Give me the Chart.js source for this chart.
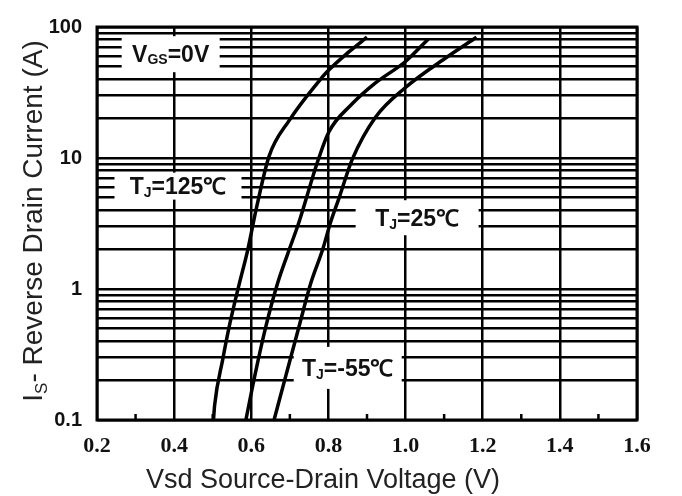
<!DOCTYPE html>
<html>
<head>
<meta charset="utf-8">
<script src="https://cdn.jsdelivr.net/npm/chart.js@4"></script>
<style>
  html, body { margin: 0; padding: 0; background: #fff; }
  #wrap { width: 682px; height: 496px; }
</style>
</head>
<body>
<div id="wrap"><canvas id="vsdChart"></canvas></div>
<script>
// curve values (Vsd in V, Is in A)
let v125 = [0.502, 0.505, 0.526, 0.543, 0.569, 0.590, 0.613, 0.646, 0.698, 0.775, 0.797, 0.853, 0.900];
let i125 = [0.1, 0.13, 0.29, 0.52, 1.1, 1.94, 4.1, 10.3, 19.3, 38.5, 45.7, 64.6, 83.6];
let v25 = [0.586, 0.608, 0.638, 0.668, 0.694, 0.724, 0.771, 0.801, 0.861, 0.922, 0.999, 1.059];
let i25 = [0.1, 0.21, 0.52, 1.1, 1.84, 3.26, 9.2, 15.8, 25.8, 37.4, 54.3, 81];
let v55 = [0.659, 0.690, 0.724, 0.754, 0.785, 0.806, 0.827, 0.862, 0.922, 0.999, 1.102, 1.184];
let i55 = [0.1, 0.22, 0.52, 1.1, 2.0, 3.26, 4.9, 9.8, 20.5, 34.4, 57.5, 83.6];

let yTicks = [0.1, 0.2, 0.3, 0.4, 0.5, 0.6, 0.7, 0.8, 0.9,
    1, 2, 3, 4, 5, 6, 7, 8, 9,
    10, 20, 30, 40, 50, 60, 70, 80, 90, 100];
let yLabels = [0.1, 1, 10, 100];
let xLabels = ['0.2', '0.4', '0.6', '0.8', '1.0', '1.2', '1.4', '1.6'];

let xTitle = 'Vsd Source-Drain Voltage (V)';
let yTitle = ['I', 'S', '- Reverse Drain Current (A)'];

function pts(xs, ys) {
    return xs.map(function (v, k) { return {x: v, y: ys[k]}; });
}

// text runs with a subscript part, drawn centred on (cx, cy)
function drawRuns(c, runs, cx, cy) {
    let w = 0;
    runs.forEach(function (r) { c.font = r.font; w += c.measureText(r.t).width; });
    let x = cx - w / 2;
    c.textAlign = 'left';
    c.textBaseline = 'alphabetic';
    runs.forEach(function (r) {
        c.font = r.font;
        c.fillText(r.t, x, cy + (r.dy || 0));
        x += c.measureText(r.t).width;
    });
}

let big = 'bold 23px "Liberation Sans", Arial, sans-serif';
let small = 'bold 14px "Liberation Sans", Arial, sans-serif';
let boxes = [
    {x: 0.391, y: 62, w: 98, h: 36, runs: [{t: 'V', font: big}, {t: 'GS', font: small, dy: 2}, {t: '=0V', font: big}]},
    {x: 0.410, y: 6.1, w: 127, h: 27, runs: [{t: 'T', font: big}, {t: 'J', font: small, dy: 3}, {t: '=125\u2103', font: big}]},
    {x: 1.030, y: 3.5, w: 123, h: 35, runs: [{t: 'T', font: big}, {t: 'J', font: small, dy: 3}, {t: '=25\u2103', font: big}]},
    {x: 0.850, y: 0.25, w: 108, h: 42, runs: [{t: 'T', font: big}, {t: 'J', font: small, dy: 3}, {t: '=-55\u2103', font: big}]},
];

let labelPlugin = {
    id: 'labels',
    beforeDatasetsDraw: function (chart) {
        let c = chart.ctx;
        let xs = chart.scales.x, ys = chart.scales.y;
        c.save();
        boxes.forEach(function (b) {
            let px = xs.getPixelForValue(b.x), py = ys.getPixelForValue(b.y);
            c.fillStyle = '#fff';
            c.fillRect(px - b.w / 2, py - b.h / 2, b.w, b.h);
            c.fillStyle = '#111';
            drawRuns(c, b.runs, px, py + 8);
        });
        c.restore();
    },
    afterDraw: function (chart) {
        let c = chart.ctx;
        let a = chart.chartArea;
        let xs = chart.scales.x;
        c.save();
        // minor tick marks at the bottom edge
        c.strokeStyle = '#000';
        c.lineWidth = 2.5;
        for (let k = 3; k < 16; k += 2) {
            let px = xs.getPixelForValue(k / 10);
            c.beginPath();
            c.moveTo(px, a.bottom);
            c.lineTo(px, a.bottom - 6);
            c.stroke();
        }
        c.lineWidth = 3;
        c.strokeRect(a.left, a.top, a.right - a.left, a.bottom - a.top);
        // axis titles
        c.fillStyle = '#222';
        c.textAlign = 'center';
        c.textBaseline = 'alphabetic';
        c.font = '27px "Liberation Sans", Arial, sans-serif';
        c.fillText(xTitle, 323, 488);
        c.translate(42, 221);
        c.rotate(-Math.PI / 2);
        drawRuns(c, [
            {t: yTitle[0], font: '28px "Liberation Sans", Arial, sans-serif'},
            {t: yTitle[1], font: '17px "Liberation Sans", Arial, sans-serif', dy: 5},
            {t: yTitle[2], font: '28px "Liberation Sans", Arial, sans-serif'},
        ], 0, 0);
        c.restore();
    }
};

let line = {borderColor: '#000', borderWidth: 3.5, pointRadius: 0, fill: false, cubicInterpolationMode: 'monotone'};

let ctx = document.getElementById('vsdChart').getContext('2d');
let vsdChart = new Chart(ctx, {
    type: 'line',
    data: {
        datasets: [
            Object.assign({label: 'TJ=125', data: pts(v125, i125)}, line),
            Object.assign({label: 'TJ=25', data: pts(v25, i25)}, line),
            Object.assign({label: 'TJ=-55', data: pts(v55, i55)}, line),
        ]
    },
    options: {
        responsive: true,
        maintainAspectRatio: false,
        animation: false,
        layout: {padding: {top: 18, right: 45, left: 0, bottom: 0}},
        plugins: {legend: {display: false}, tooltip: {enabled: false}},
        scales: {
            x: {
                type: 'linear',
                min: 0.2,
                max: 1.6,
                afterFit: function (s) { s.height = 76; },
                border: {display: false},
                grid: {
                    drawTicks: false,
                    lineWidth: 2.5,
                    color: function (c) {
                        return Math.round(c.tick.value * 10) % 2 === 0 ? '#000' : 'rgba(0,0,0,0)';
                    }
                },
                ticks: {
                    stepSize: 0.1,
                    autoSkip: false,
                    maxRotation: 0,
                    padding: 13,
                    color: '#111',
                    font: {family: '"Liberation Serif", "Times New Roman", serif', size: 22, weight: 'bold'},
                    callback: function (v) {
                        let k = Math.round(v * 10);
                        return k % 2 === 0 ? xLabels[(k - 2) / 2] : '';
                    }
                }
            },
            y: {
                type: 'logarithmic',
                min: 0.1,
                max: 100,
                afterFit: function (s) { s.width = 97; },
                afterBuildTicks: function (s) {
                    s.ticks = yTicks.map(function (v) { return {value: v}; });
                },
                border: {display: false},
                grid: {drawTicks: false, lineWidth: 2.5, color: '#000'},
                ticks: {
                    autoSkip: false,
                    padding: 15,
                    color: '#111',
                    font: {family: '"Liberation Sans", Arial, sans-serif', size: 20, weight: 'bold'},
                    callback: function (v) {
                        return yLabels.indexOf(v) >= 0 ? String(v) : '';
                    }
                }
            }
        }
    },
    plugins: [labelPlugin]
});
</script>
</body>
</html>
